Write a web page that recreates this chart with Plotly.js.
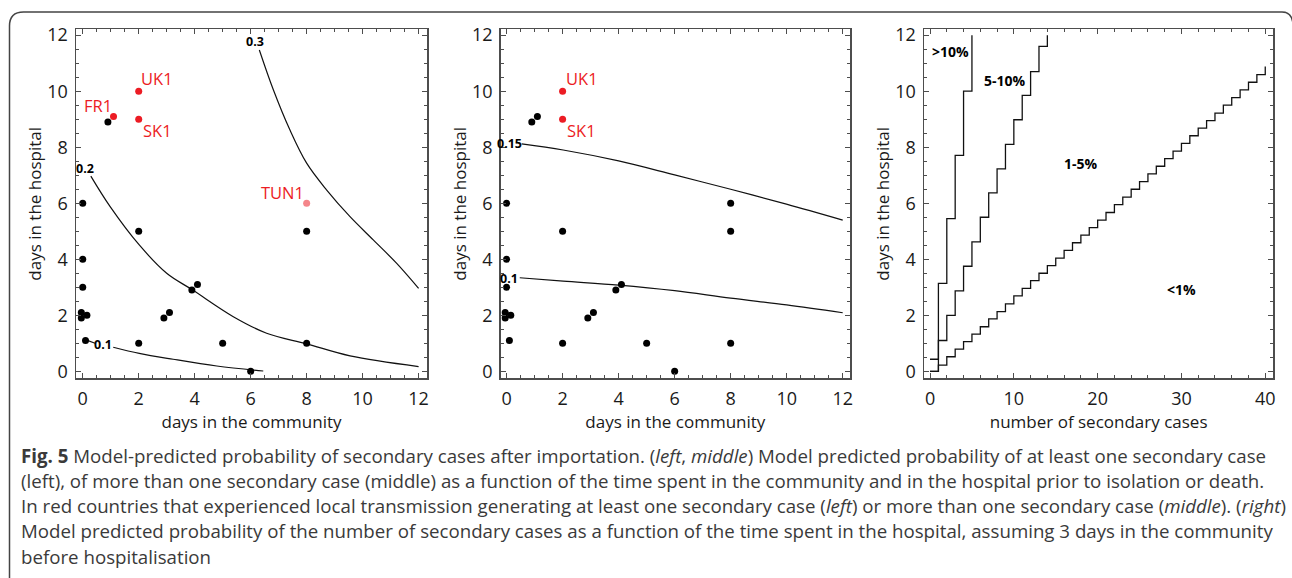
<!DOCTYPE html>
<html>
<head>
<meta charset="utf-8">
<script src="https://cdn.plot.ly/plotly-3.0.1.min.js"></script>
<style>html,body{margin:0;padding:0;background:#fff;}#chart{width:1292px;height:578px;}</style>
</head>
<body>
<div id="chart"></div>
<script>
// ---------- DATA ----------
// Left panel: observed importations (days in community, days in hospital)
const leftBlackX = [0.9, 0, 2, 8, 0, 0, -0.05, -0.05, 0.15, 0.1, 2, 2.9, 3.1, 3.9, 4.1, 5, 6, 8];
const leftBlackY = [8.9, 6, 5, 5, 4, 3, 2.1, 1.9, 2, 1.1, 1, 1.9, 2.1, 2.9, 3.1, 1, 0, 1];
const leftRedX = [1.1, 2, 2];
const leftRedY = [9.1, 10, 9];
const leftRedNames = ['FR1', 'UK1', 'SK1'];
const tunX = [8];
const tunY = [6];
const tunName = 'TUN1';

// Left panel contour lines (probability of at least one secondary case)
const c03X = [6.31, 6.81, 7.40, 8.0, 8.71, 9.55, 10.38, 11.21, 12.0];
const c03Y = [11.47, 10.05, 8.62, 7.43, 6.48, 5.52, 4.69, 3.86, 2.96];
const c02X = [0.29, 0.98, 2.02, 3.0, 3.93, 5.38, 6.57, 8.0, 9.55, 12.0];
const c02Y = [6.97, 5.88, 4.51, 3.5, 2.9, 1.95, 1.36, 0.98, 0.55, 0.17];
const c01aX = [0.12, 0.44];
const c01aY = [1.12, 1.0];
const c01bX = [1.09, 2.02, 3.23, 4.79, 6.45];
const c01bY = [0.86, 0.64, 0.43, 0.19, 0.01];
const leftLevels = ['0.3', '0.2', '0.1'];
const leftLevelX = [6.16, 0.08, 0.74];
const leftLevelY = [11.77, 7.25, 0.94];

// Middle panel: observed importations
const midBlackX = [0.9, 1.1, 0, 2, 8, 8, 0, 0, -0.05, -0.05, 0.15, 0.1, 2, 2.9, 3.1, 3.9, 4.1, 5, 6, 8];
const midBlackY = [8.9, 9.1, 6, 5, 6, 5, 4, 3, 2.1, 1.9, 2, 1.1, 1, 1.9, 2.1, 2.9, 3.1, 1, 0, 1];
const midRedX = [2, 2];
const midRedY = [10, 9];
const midRedNames = ['UK1', 'SK1'];

// Middle panel contour lines (probability of more than one secondary case)
const c015X = [0.54, 2.02, 4.0, 6.0, 8.0, 9.99, 12.0];
const c015Y = [8.12, 7.9, 7.51, 7.01, 6.5, 5.97, 5.4];
const c010X = [0.47, 2.02, 4.0, 6.0, 8.0, 10.0, 12.0];
const c010Y = [3.34, 3.22, 3.08, 2.88, 2.61, 2.37, 2.09];
const midLevels = ['0.15', '0.1'];
const midLevelX = [0.1, 0.08];
const midLevelY = [8.14, 3.32];

// Right panel: step boundaries (number of secondary cases vs days in hospital)
const stepGt10X = [0, 1, 2, 3, 4, 5];
const stepGt10Y = [0.43, 3.14, 5.45, 7.71, 10.0, 12.0];
const step5to10X = [0, 1, 2, 3, 4, 5, 6, 7, 8, 9, 10, 11, 12, 13, 14];
const step5to10Y = [0, 1.1, 2.0, 2.87, 3.75, 4.62, 5.5, 6.37, 7.23, 8.1, 8.98, 9.85, 10.7, 11.6, 12.0];
const step1X = [0, 1, 2, 3, 4, 5, 6, 7, 8, 9, 10, 11, 12, 13, 14, 15, 16, 17, 18, 19, 20,
                21, 22, 23, 24, 25, 26, 27, 28, 29, 30, 31, 32, 33, 34, 35, 36, 37, 38, 39, 40];
const step1Y = [0, 0.22, 0.52, 0.79, 1.06, 1.33, 1.59, 1.87, 2.13, 2.41, 2.69, 2.96, 3.24, 3.50, 3.77,
                4.04, 4.32, 4.59, 4.86, 5.13, 5.40, 5.67, 5.95, 6.22, 6.50, 6.77, 7.05, 7.32, 7.59,
                7.86, 8.14, 8.41, 8.68, 8.95, 9.22, 9.50, 9.77, 10.05, 10.32, 10.59, 10.88];
const regionLabels = ['>10%', '5-10%', '1-5%', '<1%'];
const regionX = [2.4, 8.9, 18.0, 30.0];
const regionY = [11.4, 10.4, 7.43, 2.93];

// Axis tick values and titles
const tickDays = [0, 2, 4, 6, 8, 10, 12];
const tickCases = [0, 10, 20, 30, 40];
const titleCommunity = 'days in the community';
const titleHospital = 'days in the hospital';
const titleCases = 'number of secondary cases';

// Caption
const captionLines = [
  '<b>Fig. 5</b> Model-predicted probability of secondary cases after importation. (<i>left</i>, <i>middle</i>) Model predicted probability of at least one secondary case',
  '(left), of more than one secondary case (middle) as a function of the time spent in the community and in the hospital prior to isolation or death.',
  'In red countries that experienced local transmission generating at least one secondary case (<i>left</i>) or more than one secondary case (<i>middle</i>). (<i>right</i>)',
  'Model predicted probability of the number of secondary cases as a function of the time spent in the hospital, assuming 3 days in the community',
  'before hospitalisation'
];

// ---------- STYLE / LAYOUT ----------
const W = 1292, H = 578;
const FONT = 'Open Sans, sans-serif';
const RED = '#ec1c24';
const PINK = '#f4858a';
const FRAME = '#4d4d4d';
const px = v => v / W;
const py = v => 1 - v / H;
const esc = s => s.replace(/&/g, '&amp;').replace(/</g, '&lt;').replace(/>/g, '&gt;');

function line(x, y, xa, ya, extra) {
  return Object.assign({x: x, y: y, xaxis: xa, yaxis: ya, type: 'scatter', mode: 'lines',
    line: {color: '#111', width: 1.2, shape: 'spline', smoothing: 1}, hoverinfo: 'skip', showlegend: false}, extra || {});
}
function dots(x, y, xa, ya, color) {
  return {x: x, y: y, xaxis: xa, yaxis: ya, type: 'scatter', mode: 'markers',
    marker: {color: color, size: 7}, showlegend: false, hoverinfo: 'x+y', cliponaxis: false};
}
const stepLine = {line: {color: '#111', width: 1.3, shape: 'hv'}};

const traces = [
  line(c03X, c03Y, 'x', 'y'),
  line(c02X, c02Y, 'x', 'y'),
  line(c01aX, c01aY, 'x', 'y'),
  line(c01bX, c01bY, 'x', 'y'),
  dots(leftBlackX, leftBlackY, 'x', 'y', '#000'),
  dots(leftRedX, leftRedY, 'x', 'y', RED),
  dots(tunX, tunY, 'x', 'y', PINK),
  line(c015X, c015Y, 'x2', 'y2'),
  line(c010X, c010Y, 'x2', 'y2'),
  dots(midBlackX, midBlackY, 'x2', 'y2', '#000'),
  dots(midRedX, midRedY, 'x2', 'y2', RED),
  line(stepGt10X, stepGt10Y, 'x3', 'y3', stepLine),
  line(step5to10X, step5to10Y, 'x3', 'y3', stepLine),
  line(step1X, step1Y, 'x3', 'y3', stepLine)
];

function xax(domain, range, tickvals, minorDt, title) {
  return {
    domain: domain, range: range, tickvals: tickvals, ticks: 'inside', ticklen: 5, tickwidth: 1,
    tickcolor: FRAME, showline: true, linecolor: FRAME, linewidth: 1.5, mirror: 'ticks',
    showgrid: false, zeroline: false, automargin: false, fixedrange: true,
    tickfont: {family: FONT, size: 18, color: '#1a1a1a'}, ticklabelstandoff: 4,
    minor: {dtick: minorDt, tick0: 0, ticks: 'inside', ticklen: 3, tickcolor: FRAME, showgrid: false},
    title: {text: title, font: {family: FONT, size: 17, color: '#1a1a1a'}, standoff: 3}
  };
}
function yax(domain, anchor) {
  return {
    domain: domain, range: [-0.25, 12.21], tickvals: tickDays, anchor: anchor, ticks: 'inside', ticklen: 5,
    tickwidth: 1, tickcolor: FRAME, showline: true, linecolor: FRAME, linewidth: 1.5, mirror: 'ticks',
    showgrid: false, zeroline: false, automargin: false, fixedrange: true,
    tickfont: {family: FONT, size: 18, color: '#1a1a1a'}, ticklabelstandoff: 3,
    minor: {dtick: 0.5, tick0: 0, ticks: 'inside', ticklen: 3, tickcolor: FRAME, showgrid: false},
    title: {text: titleHospital, font: {family: FONT, size: 17, color: '#1a1a1a'}, standoff: 1}
  };
}
const yDom = [py(378.3), py(29.3)];

const annotations = [];
function lab(text, x, y, xr, yr, color, size, bold) {
  annotations.push({text: bold ? '<b>' + esc(text) + '</b>' : esc(text), x: x, y: y, xref: xr, yref: yr,
    showarrow: false, xanchor: 'center', yanchor: 'middle',
    font: {family: FONT, size: size, color: color}});
}
leftRedNames.forEach((n, i) => {
  const off = [[-0.56, 0.38], [0.67, 0.44], [0.67, -0.41]][i];
  lab(n, leftRedX[i] + off[0], leftRedY[i] + off[1], 'x', 'y', RED, 16.5);
});
lab(tunName, tunX[0] - 0.86, tunY[0] + 0.39, 'x', 'y', RED, 16.5);
midRedNames.forEach((n, i) => {
  const off = [[0.68, 0.44], [0.68, -0.41]][i];
  lab(n, midRedX[i] + off[0], midRedY[i] + off[1], 'x2', 'y2', RED, 16.5);
});
leftLevels.forEach((t, i) => lab(t, leftLevelX[i], leftLevelY[i], 'x', 'y', '#000', 12.5, true));
midLevels.forEach((t, i) => lab(t, midLevelX[i], midLevelY[i], 'x2', 'y2', '#000', 12.5, true));
regionLabels.forEach((t, i) => lab(t, regionX[i], regionY[i], 'x3', 'y3', '#000', 14, true));

captionLines.forEach((t, i) => {
  annotations.push({text: t, xref: 'paper', yref: 'paper', x: px(19), y: py(455 + i * 25.3),
    xanchor: 'left', yanchor: 'middle', showarrow: false, align: 'left',
    font: {family: FONT, size: 18.7, color: '#3a3a3a'}});
});

const frameR = 14;
const framePath = 'M ' + px(9.5) + ' ' + py(600) + ' L ' + px(9.5) + ' ' + py(12 + frameR) +
  ' Q ' + px(9.5) + ' ' + py(12) + ' ' + px(9.5 + frameR) + ' ' + py(12) +
  ' L ' + px(1282) + ' ' + py(12) + ' Q ' + px(1292) + ' ' + py(12) + ' ' + px(1293) + ' ' + py(24) +
  ' L ' + px(1293) + ' ' + py(600);

const layout = {
  width: W, height: H, margin: {l: 0, r: 0, t: 0, b: 0},
  paper_bgcolor: '#fff', plot_bgcolor: '#fff', showlegend: false,
  font: {family: FONT, color: '#1a1a1a'},
  xaxis: Object.assign(xax([px(76), px(427)], [-0.24, 12.3], tickDays, 0.5, titleCommunity), {anchor: 'y'}),
  yaxis: yax(yDom, 'x'),
  xaxis2: Object.assign(xax([px(500.7), px(850)], [-0.21, 12.26], tickDays, 0.5, titleCommunity), {anchor: 'y2'}),
  yaxis2: yax(yDom, 'x2'),
  xaxis3: Object.assign(xax([px(924), px(1273.3)], [-0.72, 40.96], tickCases, 2, titleCases), {anchor: 'y3'}),
  yaxis3: yax(yDom, 'x3'),
  annotations: annotations,
  shapes: [{type: 'path', xref: 'paper', yref: 'paper', path: framePath,
    line: {color: '#444', width: 1.5}, layer: 'above'}]
};

Plotly.newPlot('chart', traces, layout, {displayModeBar: false, staticPlot: true});
</script>
</body>
</html>
